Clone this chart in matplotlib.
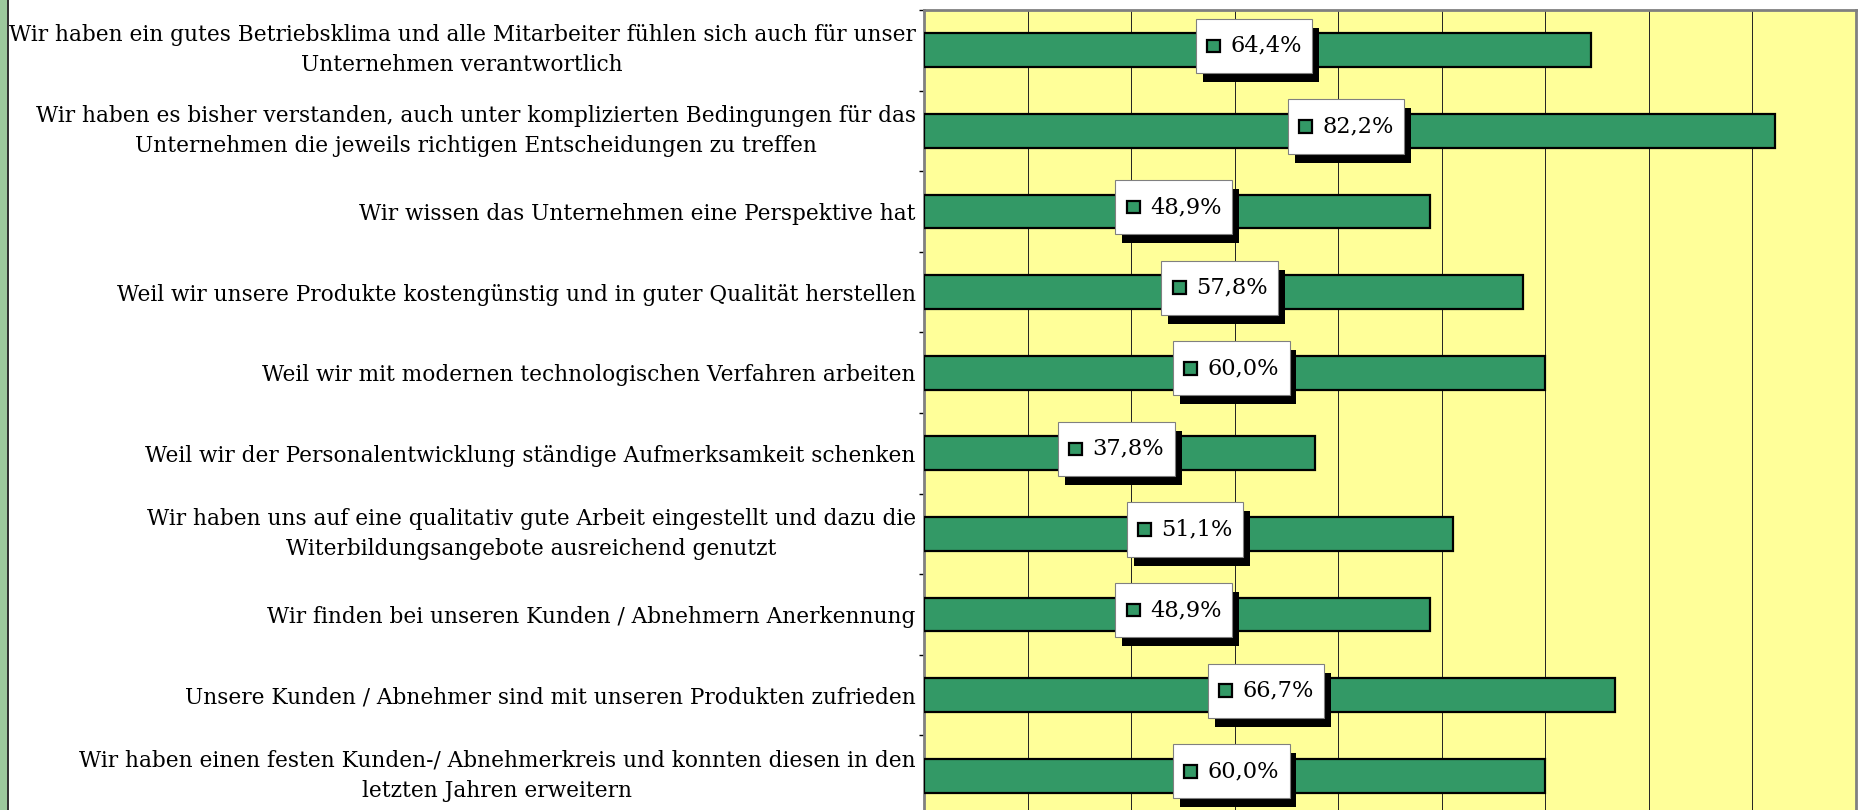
import matplotlib
matplotlib.use("Agg")
import matplotlib.pyplot as plt
import numpy as np
from matplotlib.offsetbox import AnnotationBbox, HPacker, TextArea, DrawingArea
from matplotlib.patches import Rectangle
import matplotlib.patheffects as pe

categories = [
    "Wir haben ein gutes Betriebsklima und alle Mitarbeiter fühlen sich auch für unser\nUnternehmen verantwortlich",
    "Wir haben es bisher verstanden, auch unter komplizierten Bedingungen für das\nUnternehmen die jeweils richtigen Entscheidungen zu treffen",
    "Wir wissen das Unternehmen eine Perspektive hat",
    "Weil wir unsere Produkte kostengünstig und in guter Qualität herstellen",
    "Weil wir mit modernen technologischen Verfahren arbeiten",
    "Weil wir der Personalentwicklung ständige Aufmerksamkeit schenken",
    "Wir haben uns auf eine qualitativ gute Arbeit eingestellt und dazu die\nWiterbildungsangebote ausreichend genutzt",
    "Wir finden bei unseren Kunden / Abnehmern Anerkennung",
    "Unsere Kunden / Abnehmer sind mit unseren Produkten zufrieden",
    "Wir haben einen festen Kunden-/ Abnehmerkreis und konnten diesen in den\nletzten Jahren erweitern",
]
values = [64.4, 82.2, 48.9, 57.8, 60.0, 37.8, 51.1, 48.9, 66.7, 60.0]
x_ticks = list(range(0, 91, 10))

FONT = "DejaVu Serif"
GREEN = "#339966"
W, H = 1866, 810

fig = plt.figure(figsize=(W / 100, H / 100), dpi=100)
fig.patch.set_facecolor("white")
ax = fig.add_axes([924 / W, -6 / H, 932 / W, 806 / H])
ax.set_facecolor("#FFFF99")

y = np.arange(len(categories))
ax.barh(y, values, height=0.42, color=GREEN, edgecolor="black", linewidth=1.6, zorder=3)

ax.set_xlim(0, 90)
ax.set_ylim(len(categories) - 0.5, -0.5)
ax.set_xticks(x_ticks)
ax.tick_params(axis="x", length=0, labelbottom=False)
ax.xaxis.grid(True, color="#222222", linewidth=0.7)
ax.set_axisbelow(True)

ax.set_yticks(y)
ax.set_yticklabels(categories, family=FONT, fontsize=15, ha="right", ma="center",
                   linespacing=1.45)
ax.set_yticks(np.arange(len(categories) + 1) - 0.5, minor=True)
ax.tick_params(axis="y", which="major", length=0, pad=6)
ax.tick_params(axis="y", which="minor", length=3.5, width=1, color="black")
for t in ax.get_yticklabels():
    if "\n" in t.get_text():
        t.set_verticalalignment("center")

for s in ax.spines.values():
    s.set_color("#808080")
    s.set_linewidth(2)

# fit label font size to reference width
fig.canvas.draw()
r = fig.canvas.get_renderer()
wmax = max(t.get_window_extent(r).width for t in ax.get_yticklabels())
fs = 15 * 906 / wmax
for t in ax.get_yticklabels():
    t.set_fontsize(fs)

for i, v in enumerate(values):
    da = DrawingArea(10.5, 24, 0, 0)
    da.add_artist(Rectangle((0.5, 7.5), 9.5, 9, facecolor=GREEN, edgecolor="black", linewidth=1.6))
    ta = TextArea(f"{v:.1f}%".replace(".", ","),
                  textprops=dict(fontsize=fs * 1.04, family=FONT, color="black"))
    pack = HPacker(children=[da, ta], align="center", pad=0, sep=7)
    ab = AnnotationBbox(pack, (v / 2, i), xycoords="data",
                        xybox=(-2.5, 3.2), boxcoords="offset points",
                        box_alignment=(0.5, 0.5), frameon=True, pad=0.75,
                        bboxprops=dict(facecolor="white", edgecolor="#808080",
                                       linewidth=0.8),
                        zorder=5)
    ab.patch.set_path_effects([pe.withSimplePatchShadow(offset=(5, -6.5),
                                                        shadow_rgbFace="black", alpha=1.0)])
    ax.add_artist(ab)

# left green frame strip
fig.patches.append(Rectangle((0, 0), 7 / W, 1, transform=fig.transFigure,
                             facecolor="#9CC89C", edgecolor="none", zorder=0))
fig.patches.append(Rectangle((7 / W, 0), 1.5 / W, 1, transform=fig.transFigure,
                             facecolor="#333333", edgecolor="none", zorder=0))

fig.savefig("out.png", dpi=100)
